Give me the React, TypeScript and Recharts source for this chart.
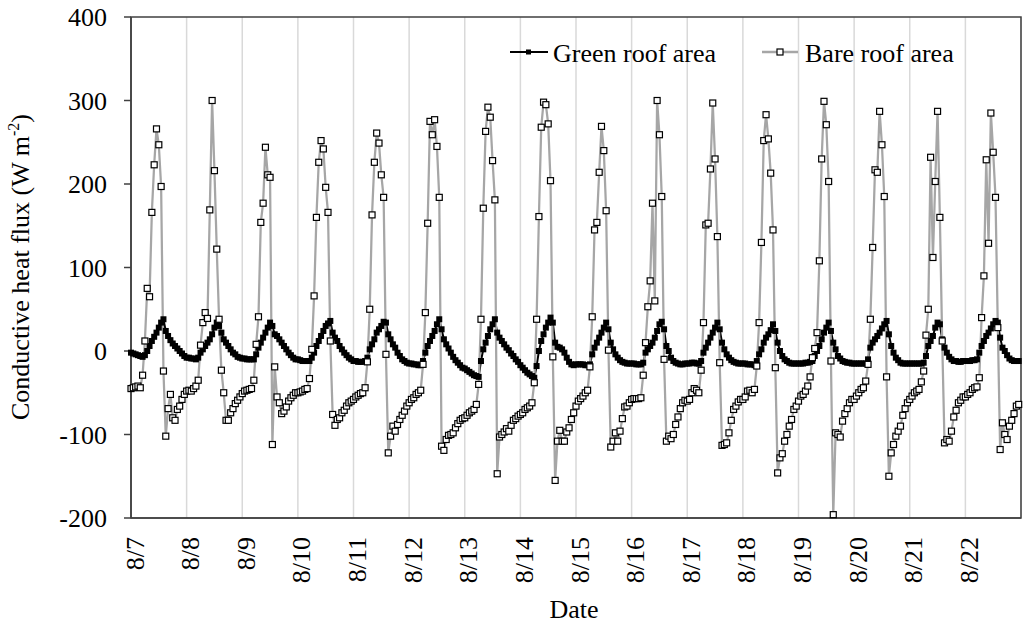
import { CartesianGrid, Line, LineChart, ReferenceArea, XAxis, YAxis } from 'recharts';

const dates = ['8/7', '8/8', '8/9', '8/10', '8/11', '8/12', '8/13', '8/14', '8/15', '8/16', '8/17', '8/18', '8/19', '8/20', '8/21', '8/22'];
const HOURS = 24;
const yTicks = [-200, -100, 0, 100, 200, 300, 400];

// hourly conductive heat flux, one row per day (W m-2)
const greenRoof = [
  -2, -3, -4, -5, -6, -7, -5, 0, 6, 12, 17, 22, 28, 34, 38, 24, 18, 13, 9, 6, 3, 0, -3, -6,
  -8, -8, -9, -9, -10, -8, -2, 2, 6, 10, 14, 20, 28, 34, 30, 22, 14, 10, 6, 2, -2, -4, -7, -8,
  -9, -9, -10, -10, -10, -10, -4, 4, 10, 16, 22, 28, 34, 30, 20, 18, 14, 10, 6, 2, -2, -5, -8, -10,
  -10, -11, -12, -12, -12, -12, -8, -2, 6, 12, 18, 24, 30, 33, 36, 22, 16, 12, 6, 2, -2, -5, -8, -10,
  -12, -12, -13, -13, -13, -12, -8, 2, 8, 14, 22, 26, 30, 35, 34, 20, 14, 8, 4, -2, -6, -10, -12, -14,
  -15, -15, -16, -16, -17, -17, -12, -2, 6, 12, 18, 24, 32, 38, 26, 14, 8, 3, -2, -7, -11, -14, -17, -20,
  -21, -23, -25, -27, -29, -30, -31, -12, 2, 10, 18, 26, 32, 38, 22, 16, 12, 8, 4, 1, -3, -6, -10, -13,
  -17, -20, -23, -26, -28, -30, -32, -18, 0, 12, 20, 28, 34, 40, 34, 10, 5, 4, 2, -2, -8, -13, -16, -17,
  -16, -16, -16, -16, -17, -17, -16, -4, 4, 10, 16, 22, 28, 34, 26, 10, 2, -4, -8, -11, -13, -14, -15, -15,
  -15, -15, -16, -16, -16, -14, -2, 2, 6, 10, 16, 24, 32, 35, 26, 6, 0, -8, -12, -14, -15, -16, -16, -15,
  -15, -15, -14, -14, -15, -15, -12, -2, 4, 10, 16, 22, 28, 34, 26, 10, 2, -4, -8, -11, -13, -14, -15, -15,
  -15, -15, -16, -16, -16, -17, -12, -4, 2, 10, 16, 20, 25, 32, 24, 10, 0, -6, -10, -12, -14, -15, -15, -15,
  -15, -15, -15, -14, -14, -13, -12, -6, 0, 6, 14, 22, 28, 34, 24, 10, 2, -6, -9, -12, -13, -14, -14, -15,
  -15, -15, -15, -15, -15, -15, -10, 4, 10, 14, 18, 22, 27, 32, 36, 20, 6, -2, -8, -11, -14, -15, -15, -15,
  -15, -15, -15, -15, -15, -15, -14, -6, 6, 12, 18, 28, 34, 32, 14, 4, -2, -7, -10, -12, -12, -13, -13, -12,
  -12, -12, -12, -11, -11, -10, -2, 6, 12, 18, 22, 27, 32, 36, 34, 16, 4, 0, -5, -9, -11, -12, -12, -12,
];

const bareRoof = [
  -45, -44, -43, -42, -44, -29, 12, 75, 65, 166, 223, 266, 247, 197, -24, -102, -69, -52, -80, -83, -70, -66, -58, -52,
  -48, -47, -48, -45, -42, -35, 7, 34, 46, 39, 169, 300, 216, 122, 38, -23, -50, -83, -83, -74, -69, -63, -59, -55,
  -51, -48, -47, -46, -45, -35, 8, 41, 154, 177, 244, 211, 208, -112, -19, -55, -62, -75, -72, -67, -60, -56, -53, -50,
  -50, -49, -48, -46, -45, -33, 2, 66, 160, 226, 252, 242, 196, 166, 12, -76, -89, -82, -80, -74, -71, -66, -62, -60,
  -58, -55, -53, -51, -50, -44, -13, 50, 163, 226, 261, 249, 211, 184, -4, -122, -102, -90, -96, -88, -82, -77, -72, -66,
  -62, -58, -56, -52, -50, -47, -16, 46, 153, 275, 259, 277, 245, 184, -114, -119, -106, -101, -100, -98, -92, -87, -83, -81,
  -80, -77, -74, -72, -70, -64, -40, 38, 171, 263, 292, 280, 228, 181, -147, -103, -100, -97, -93, -96, -89, -83, -81, -78,
  -76, -74, -70, -68, -66, -62, -38, 38, 161, 268, 298, 295, 272, 204, -7, -155, -108, -95, -108, -108, -97, -92, -82, -74,
  -66, -60, -57, -54, -50, -47, -19, 41, 145, 154, 214, 269, 240, 168, 1, -115, -108, -98, -108, -96, -81, -67, -66, -62,
  -58, -57, -57, -57, -56, -29, 10, 53, 84, 177, 60, 300, 259, 185, -10, -108, -102, -105, -100, -88, -79, -69, -62, -59,
  -60, -58, -50, -45, -47, -50, -23, 34, 151, 153, 218, 297, 230, 137, -14, -113, -112, -110, -98, -83, -70, -66, -61, -58,
  -58, -55, -48, -47, -50, -46, -18, 34, 130, 252, 283, 254, 213, 145, -20, -146, -128, -123, -108, -100, -90, -82, -70, -66,
  -60, -54, -52, -48, -42, -31, -8, 3, 22, 108, 230, 299, 271, 203, -12, -196, -98, -100, -103, -84, -75, -69, -62, -58,
  -58, -54, -50, -46, -44, -36, -16, 38, 124, 217, 214, 287, 247, 185, -31, -150, -122, -112, -102, -96, -90, -77, -69, -62,
  -58, -54, -50, -48, -46, -37, -24, 19, 50, 232, 112, 203, 287, 160, 12, -110, -106, -108, -96, -79, -71, -62, -59, -55,
  -55, -52, -50, -46, -44, -43, -32, 40, 90, 229, 129, 285, 238, 184, 28, -118, -86, -100, -106, -90, -83, -75, -66, -64,
];

const data = greenRoof.map((g, i) => ({ t: i, green: g, bare: bareRoof[i] }));
const dayTicks = dates.map((_, i) => i * HOURS);
const END = dates.length * HOURS;

const FONT = '"Liberation Serif", "Times New Roman", serif';
const AXIS = '#404040';

const GreenDot = (props: any) => {
  const { cx, cy, index } = props;
  if (cx == null || cy == null) return null;
  return <rect key={`g-${index}`} x={cx - 3} y={cy - 3} width={6} height={6} fill="#000" />;
};

const BareDot = (props: any) => {
  const { cx, cy, index } = props;
  if (cx == null || cy == null) return null;
  return (
    <rect key={`b-${index}`} x={cx - 3} y={cy - 3} width={6} height={6} fill="#fff" stroke="#000" strokeWidth={1.2} />
  );
};

const DateTick = ({ x, y, payload }: any) => (
  <text
    transform={`translate(${x + 4},${y}) rotate(-90)`}
    textAnchor="end"
    dominantBaseline="central"
    fontFamily={FONT}
    fontSize={26}
    fill="#000"
  >
    {dates[Math.round(payload.value / HOURS)]}
  </text>
);

const YTitle = () => (
  <text transform="translate(29,267) rotate(-90)" textAnchor="middle" fontFamily={FONT} fontSize={26} fill="#000">
    Conductive heat flux  (W m
    <tspan dy={-10} fontSize={16}>-2</tspan>
    <tspan dy={10}>)</tspan>
  </text>
);

const XTitle = () => (
  <text x={574} y={618} textAnchor="middle" fontFamily={FONT} fontSize={26} fill="#000">
    Date
  </text>
);

// legend drawn on its own layer so it takes no room from the plot
const LegendBox = () => (
  <svg width={480} height={42} style={{ position: 'absolute', left: 510, top: 32, overflow: 'visible' }}>
    <line x1={0} y1={20} x2={38} y2={20} stroke="#000" strokeWidth={2} />
    <rect x={16} y={17.5} width={5} height={5} fill="#000" />
    <text x={43} y={30} fontFamily={FONT} fontSize={26} fill="#000">
      Green roof area
    </text>
    <line x1={252} y1={20} x2={288} y2={20} stroke="#a6a6a6" strokeWidth={2.5} />
    <rect x={267} y={17} width={6} height={6} fill="#fff" stroke="#000" strokeWidth={1.2} />
    <text x={295} y={30} fontFamily={FONT} fontSize={26} fill="#000">
      Bare roof area
    </text>
  </svg>
);

export default function App() {
  return (
    <div style={{ position: 'absolute', left: 0, top: 0, width: 1024, height: 626, background: '#fff' }}>
      <LineChart width={1024} height={626} data={data} margin={{ top: 17, right: 3, bottom: 18, left: 0 }}>
        <CartesianGrid horizontal={false} stroke="#d9d9d9" strokeWidth={1.5} />
        <XAxis
          dataKey="t"
          type="number"
          domain={[0, END]}
          ticks={dayTicks}
          interval={0}
          height={90}
          tickLine={false}
          tickSize={0}
          tickMargin={19}
          axisLine={{ stroke: AXIS, strokeWidth: 1.5 }}
          tick={<DateTick />}
          label={<XTitle />}
        />
        <YAxis
          type="number"
          domain={[-200, 400]}
          ticks={yTicks}
          interval={0}
          width={131}
          tickSize={7}
          tickMargin={17}
          tickLine={{ stroke: AXIS, strokeWidth: 1.5 }}
          axisLine={{ stroke: AXIS, strokeWidth: 1.5 }}
          tick={{ fontSize: 26, fill: '#000', fontFamily: FONT }}
          label={<YTitle />}
        />
        <ReferenceArea x1={0} x2={END} y1={-200} y2={400} fill="none" stroke={AXIS} strokeWidth={1.5} />
        <Line
          type="linear"
          dataKey="green"
          stroke="#000"
          strokeWidth={2}
          dot={GreenDot}
          activeDot={false}
          isAnimationActive={false}
        />
        <Line
          type="linear"
          dataKey="bare"
          stroke="#a6a6a6"
          strokeWidth={2.25}
          dot={BareDot}
          activeDot={false}
          isAnimationActive={false}
        />
      </LineChart>
      <LegendBox />
    </div>
  );
}
